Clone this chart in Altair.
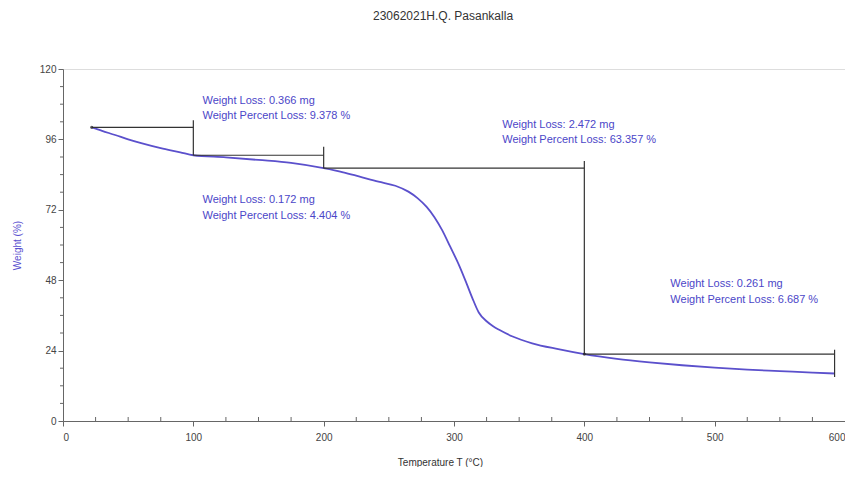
import altair as alt
import pandas as pd

# TGA curve (Temperature °C, Weight %)
temps = [22, 30, 40, 50, 60, 75, 90, 100, 125, 150, 175, 200, 215, 227, 242, 255,
         265, 272, 279, 285, 291, 297, 304, 310, 314, 319, 325, 330, 335, 345, 360,
         380, 400, 425, 450, 475, 500, 525, 550, 575, 592]
weights = [100.1, 98.9, 97.5, 96.0, 94.7, 93.0, 91.6, 90.6, 89.9, 89.0, 88.0, 86.2, 84.8,
           83.4, 81.6, 80.2, 78.2, 76.0, 73.0, 69.5, 65.0, 59.5, 53.0, 46.5, 42.0, 37.0,
           34.0, 32.3, 31.0, 28.8, 26.5, 24.5, 22.8, 21.2, 20.0, 19.0, 18.2, 17.5, 17.0,
           16.5, 16.2]

# step annotation segments
seg_x = [22, 100, 100, 200, 200, 400, 400, 592]
seg_x2 = [100, 100, 200, 200, 400, 400, 592, 592]
seg_y = [100.1, 102.5, 90.6, 93.5, 86.2, 88.6, 22.8, 24.3]
seg_y2 = [100.1, 90.6, 90.6, 86.2, 86.2, 22.8, 22.8, 15.0]

# annotation texts
ann_text = ["Weight Loss: 0.366 mg", "Weight Percent Loss: 9.378 %",
            "Weight Loss: 0.172 mg", "Weight Percent Loss: 4.404 %",
            "Weight Loss: 2.472 mg", "Weight Percent Loss: 63.357 %",
            "Weight Loss: 0.261 mg", "Weight Percent Loss: 6.687 %"]
ann_x = [107, 107, 107, 107, 337, 337, 466, 466]
ann_y = [109.1, 104.0, 75.3, 69.9, 100.9, 95.8, 46.7, 41.3]

x_minor = [25, 50, 75, 125, 150, 175, 225, 250, 275, 325, 350, 375, 425, 450, 475, 525, 550, 575]
y_minor = [6, 12, 18, 30, 36, 42, 54, 60, 66, 78, 84, 90, 102, 108, 114]

W, H = 782, 352

curve_df = pd.DataFrame({"T": temps, "W": weights})
seg_df = pd.DataFrame({"x": seg_x, "x2": seg_x2, "y": seg_y, "y2": seg_y2})
ann_df = pd.DataFrame({"t": ann_text, "x": ann_x, "y": ann_y})
xm_df = pd.DataFrame({"v": x_minor})
ym_df = pd.DataFrame({"v": y_minor})

xscale = alt.Scale(domain=[0, 600], nice=False, zero=False)
yscale = alt.Scale(domain=[0, 120], nice=False)

xaxis = alt.Axis(values=[0, 100, 200, 300, 400, 500, 600], grid=False, domainColor="#666",
                 tickColor="#666", tickSize=5, labelColor="#444", labelFont="Liberation Sans",
                 labelFontSize=10, labelPadding=6, labelFlush=True, labelOverlap=False,
                 title="Temperature T (°C)",
                 titleFont="Liberation Sans", titleFontSize=10, titleFontWeight="normal",
                 titleColor="#333", titleX=377, titleY=41, titleAnchor="start",
                 titleAlign="center", titleBaseline="middle")
yaxis = alt.Axis(values=[0, 24, 48, 72, 96, 120], grid=False, domainColor="#666",
                 tickColor="#666", tickSize=5, labelColor="#444", labelFont="Liberation Sans",
                 labelFontSize=10, labelPadding=2, labelFlush=False, title="Weight (%)",
                 titleFont="Liberation Sans", titleFontSize=10, titleFontWeight="normal",
                 titleColor="#5a4fcf", titleX=-46, titleY=H / 2, titleAngle=270,
                 titleAlign="center", titleBaseline="middle")

curve = alt.Chart(curve_df).mark_line(color="#5b50cc", strokeWidth=1.8, interpolate="monotone").encode(
    x=alt.X("T:Q", scale=xscale, axis=xaxis),
    y=alt.Y("W:Q", scale=yscale, axis=yaxis),
)

segs = alt.Chart(seg_df).mark_rule(color="#333", strokeWidth=1.2).encode(
    x=alt.X("x:Q", scale=xscale), x2="x2:Q",
    y=alt.Y("y:Q", scale=yscale), y2="y2:Q",
)

dots = alt.Chart(pd.DataFrame({"x": [22, 400], "y": [100.1, 22.8]})).mark_point(
    filled=True, color="#222", size=10).encode(
    x=alt.X("x:Q", scale=xscale), y=alt.Y("y:Q", scale=yscale))

texts = alt.Chart(ann_df).mark_text(align="left", baseline="middle", font="Liberation Sans",
                                    fontSize=11, color="#4b46c8").encode(
    x=alt.X("x:Q", scale=xscale), y=alt.Y("y:Q", scale=yscale), text="t:N")

xminor = alt.Chart(xm_df).mark_rule(color="#666").encode(
    x=alt.X("v:Q", scale=xscale), y=alt.value(H), y2=alt.value(H - 4))
yminor = alt.Chart(ym_df).mark_rule(color="#666").encode(
    y=alt.Y("v:Q", scale=yscale), x=alt.value(0), x2=alt.value(-3))

chart = alt.layer(curve, segs, dots, texts, xminor, yminor).properties(
    width=W, height=H,
    title=alt.TitleParams("23062021H.Q. Pasankalla", font="Liberation Sans", fontSize=12,
                          fontWeight="normal", color="#333", anchor="middle", dx=-11, offset=41),
    autosize=alt.AutoSizeParams(type="none"),
    padding={"left": 55, "top": 61, "right": 0, "bottom": 46},
).configure_view(stroke="#888", strokeWidth=1.2).configure(background="white")

chart.save("out.html", embed_options={"renderer": "svg", "actions": False})
